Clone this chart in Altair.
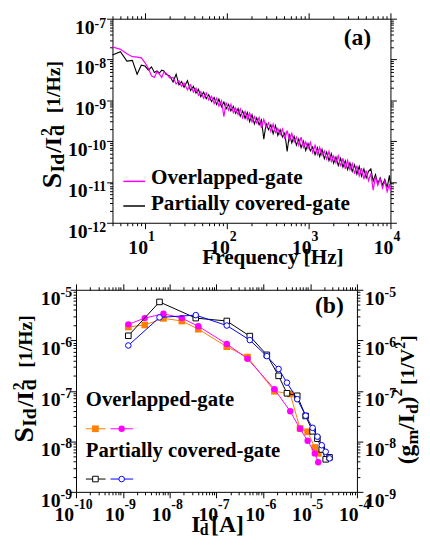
import altair as alt
import pandas as pd

FONT = "Liberation Serif"

# ---------------- panel (a): normalized drain-current noise spectra ----------------
freq_hz = [4, 5, 6, 7, 8, 9, 10, 11, 12, 13, 14, 15, 16, 17, 18,
           20, 22, 24, 26, 28, 30, 33, 36, 39, 42, 45, 48, 52, 56, 60,
           65, 70, 75, 80, 86, 92, 98, 105, 112, 120, 128, 137, 146, 156, 167,
           178, 190, 203, 217, 232, 248, 265, 283, 302, 323, 345, 368, 393, 420, 448,
           479, 511, 546, 583, 622, 664, 709, 757, 808, 863, 921, 983, 1050, 1121, 1197,
           1278, 1364, 1456, 1555, 1660, 1772, 1892, 2020, 2157, 2303, 2458, 2625, 2802, 2992, 3194,
           3410, 3641, 3887, 4150, 4431, 4731, 5051, 5392, 5757, 6147, 6562, 7006, 7480, 7986, 8526,
           9103, 9719, 10000]

# log10 of S_Id/Id^2
overlapped_log10_psd = [
    -7.69, -7.75, -7.86, -7.93, -7.94, -7.96, -8.08, -8.22, -8.40, -8.44, -8.30, -8.36, -8.44, -8.30, -8.33,
    -8.45, -8.44, -8.60, -8.52, -8.66, -8.58, -8.74, -8.62, -8.80, -8.70, -8.88, -8.79, -8.95, -8.82, -8.99,
    -8.90, -9.08, -8.95, -9.14, -9.01, -9.40, -9.05, -9.24, -9.10, -9.30, -9.19, -9.35, -9.21, -9.43, -9.27,
    -9.47, -9.31, -9.53, -9.40, -9.56, -9.42, -9.68, -9.47, -9.66, -9.55, -9.76, -9.58, -9.79, -9.69, -9.84,
    -9.70, -9.95, -9.74, -9.98, -9.81, -10.02, -9.90, -10.10, -9.90, -10.15, -10.02, -10.18, -10.03, -10.28, -10.10,
    -10.33, -10.15, -10.35, -10.24, -10.44, -10.25, -10.50, -10.36, -10.53, -10.36, -10.62, -10.42, -10.68, -10.47, -10.70,
    -10.55, -10.80, -10.60, -10.85, -10.66, -10.93, -10.72, -10.97, -10.79, -11.20, -10.87, -11.08, -10.92, -11.15, -10.98,
    -11.24, -11.05, -11.22]

partial_log10_psd = [
    -7.89, -7.81, -8.04, -8.02, -8.36, -8.14, -8.16, -8.26, -8.18, -8.32, -8.28, -8.33, -8.26, -8.28, -8.36,
    -8.40, -8.55, -8.36, -8.62, -8.54, -8.68, -8.52, -8.76, -8.66, -8.82, -8.73, -8.91, -8.80, -8.96, -8.86,
    -9.03, -8.93, -9.10, -8.97, -9.16, -9.04, -9.21, -9.10, -9.26, -9.15, -9.32, -9.20, -9.39, -9.26, -9.44,
    -9.30, -9.52, -9.35, -9.58, -9.43, -9.60, -9.48, -9.95, -9.57, -9.72, -9.60, -9.82, -9.62, -9.86, -9.72,
    -9.90, -9.80, -10.25, -9.82, -10.04, -9.88, -10.10, -9.95, -10.16, -10.00, -10.23, -10.06, -10.24, -10.14, -10.33,
    -10.16, -10.38, -10.20, -10.43, -10.27, -10.48, -10.31, -10.54, -10.39, -10.60, -10.42, -10.64, -10.48, -10.70, -10.53,
    -10.74, -10.58, -10.81, -10.62, -10.86, -10.68, -10.90, -10.74, -10.68, -10.98, -10.82, -11.04, -10.90, -11.08, -10.94,
    -11.14, -10.84, -11.06]

# ---------------- panel (b): S_Id/Id^2 and (gm/Id)^2 versus Id ----------------
overlapped_id = [1.31e-9, 2.93e-9, 7.36e-9, 1.82e-8, 4.09e-8, 1.66e-7, 4.6e-7,
                 1.73e-6, 3.76e-6, 6.1e-6, 8.85e-6, 1.26e-5, 1.49e-5]
overlapped_sid = [1.84e-6, 2.01e-6, 2.72e-6, 2.41e-6, 1.66e-6, 7.48e-7, 4.65e-7,
                  9.8e-8, 8.67e-8, 1.8e-8, 1.55e-8, 7.55e-9, 5.77e-9]
overlapped_gm2 = [2.07e-6, 2.75e-6, 3.36e-6, 2.75e-6, 1.9e-6, 8.45e-7, 4.31e-7,
                  1.08e-7, 3.93e-8, 1.77e-8, 1.03e-8, 5.77e-9, 3.85e-9]
partial_id = [1.31e-9, 6.07e-9, 3.61e-8, 1.66e-7, 5.15e-7, 1.19e-6, 2.12e-6, 3.2e-6,
              5.3e-6, 8.03e-6, 1.13e-5, 1.43e-5, 1.77e-5, 2.15e-5, 2.6e-5]
partial_sid = [1.23e-6, 5.75e-6, 2.75e-6, 2.41e-6, 1.21e-6, 5.15e-7, 1.98e-7, 8.94e-8,
               7.98e-8, 3.18e-8, 1.58e-8, 1.13e-8, 6.9e-9, 4.4e-9, 4.82e-9]
partial_gm2 = [7.9e-7, 2.84e-6, 3.15e-6, 1.96e-6, 1.01e-6, 4.86e-7, 2.71e-7, 1.45e-7,
               6.83e-8, 3.22e-8, 1.85e-8, 1.24e-8, 8.37e-9, 6.22e-9, 4.6e-9]

# tick label texts
a_x_major = [10, 100, 1000, 10000]
a_x_exp = ["1", "2", "3", "4"]
a_y_major = [1e-7, 1e-8, 1e-9, 1e-10, 1e-11, 1e-12]
a_y_exp = ["-7", "-8", "-9", "-10", "-11", "-12"]
b_x_major = [1e-10, 1e-9, 1e-8, 1e-7, 1e-6, 1e-5, 1e-4]
b_x_exp = ["-10", "-9", "-8", "-7", "-6", "-5", "-4"]
b_y_major = [1e-5, 1e-6, 1e-7, 1e-8, 1e-9]
b_y_exp = ["-5", "-6", "-7", "-8", "-9"]

# whole drawing is one view; panels get their own scale ranges
VW, VH = 420, 534
TEN = 20
EXP = 14
one = pd.DataFrame({"k": [0]})

MAJOR = "abs(log(datum.value)/LN10 - round(log(datum.value)/LN10)) < 0.001"


def log_ticks(lo, hi):
    vals = []
    d = lo
    while d <= hi:
        for k in range(1, 10):
            vals.append(k * 10.0 ** d)
        d += 1
    return vals


def axis(orient, values, offset):
    return alt.Axis(orient=orient, values=values, labels=False, title=None, domain=True,
                    domainColor="black", domainWidth=1, offset=offset,
                    grid=False, ticks=True, tickColor="black", tickWidth=1,
                    tickSize={"condition": {"test": MAJOR, "value": 6}, "value": 3})


def txt(s, x, y, size, angle=0, align="left", baseline="alphabetic"):
    kw = dict(text=s, font=FONT, fontWeight="bold", fontSize=size, align=align,
              baseline=baseline, color="black")
    if angle:
        kw["angle"] = angle
    return alt.Chart(one).mark_text(**kw).encode(x=alt.value(x), y=alt.value(y))


def wexp(e, size):
    return sum(0.333 if c == "-" else 0.5 for c in e) * size


def x_labels(vals, exps, scale, y_ten, y_exp, shift, mirror_axis):
    df = pd.DataFrame({"v": vals, "e": exps})
    out = []
    first = True
    for L in sorted(set(len(e) for e in exps)):
        sub = df[df["e"].str.len() == L].reset_index(drop=True)
        w = wexp(sub["e"][0], EXP)
        dx = 10 - w / 2 + shift
        ax = mirror_axis if first else None
        first = False
        base = alt.Chart(sub)
        out.append(base.mark_text(text="10", font=FONT, fontWeight="bold", fontSize=TEN,
                                  align="right", dx=dx, color="black")
                   .encode(x=alt.X("v:Q", scale=scale, axis=ax), y=alt.value(y_ten)))
        out.append(base.mark_text(font=FONT, fontWeight="bold", fontSize=EXP,
                                  align="left", dx=dx, color="black")
                   .encode(x=alt.X("v:Q", scale=scale, axis=None), y=alt.value(y_exp),
                           text="e:N"))
    return out


def y_labels_left(vals, exps, scale, right_edge, dy_ten, dy_exp, mirror_axis=None):
    df = pd.DataFrame({"v": vals, "e": exps})
    out = []
    first = True
    for L in sorted(set(len(e) for e in exps)):
        sub = df[df["e"].str.len() == L].reset_index(drop=True)
        w = wexp(sub["e"][0], EXP)
        ax = mirror_axis if first else None
        first = False
        base = alt.Chart(sub)
        out.append(base.mark_text(text="10", font=FONT, fontWeight="bold", fontSize=TEN,
                                  align="right", dy=dy_ten, color="black")
                   .encode(x=alt.value(right_edge - w), y=alt.Y("v:Q", scale=scale, axis=ax)))
        out.append(base.mark_text(font=FONT, fontWeight="bold", fontSize=EXP,
                                  align="right", dy=dy_exp, color="black")
                   .encode(x=alt.value(right_edge), y=alt.Y("v:Q", scale=scale, axis=None),
                           text="e:N"))
    return out


def y_labels_right(vals, exps, scale, left_edge, dy_ten, dy_exp, mirror_axis=None):
    df = pd.DataFrame({"v": vals, "e": exps})
    base = alt.Chart(df)
    return [
        base.mark_text(text="10", font=FONT, fontWeight="bold", fontSize=TEN,
                       align="left", dy=dy_ten, color="black")
        .encode(x=alt.value(left_edge), y=alt.Y("v:Q", scale=scale, axis=mirror_axis)),
        base.mark_text(font=FONT, fontWeight="bold", fontSize=EXP,
                       align="left", dy=dy_exp, color="black")
        .encode(x=alt.value(left_edge + TEN), y=alt.Y("v:Q", scale=scale, axis=None),
                text="e:N"),
    ]


# ================= panel (a) =================
AX0, AX1, AY0, AY1 = 106, 388, 7, 214          # plot box inside the view
xs_a = alt.Scale(type="log", domain=[4, 10000], nice=False, range=[AX0, AX1])
ys_a = alt.Scale(type="log", domain=[1e-12, 1e-7], nice=False, range=[AY1, AY0])
xt_a = [v for v in log_ticks(0, 3) if v >= 4] + [10000]
yt_a = log_ticks(-12, -8) + [1e-7]

df_ov = pd.DataFrame({"f": freq_hz, "S": [10 ** v for v in overlapped_log10_psd]})
df_pc = pd.DataFrame({"f": freq_hz, "S": [10 ** v for v in partial_log10_psd]})

line_pc = alt.Chart(df_pc).mark_line(color="black", strokeWidth=1.1).encode(
    x=alt.X("f:Q", scale=xs_a, axis=axis("bottom", xt_a, AY1 - VH)),
    y=alt.Y("S:Q", scale=ys_a, axis=axis("left", yt_a, -AX0)))
line_ov = alt.Chart(df_ov).mark_line(color="#FF00FF", strokeWidth=1.2).encode(
    x=alt.X("f:Q", scale=xs_a, axis=None),
    y=alt.Y("S:Q", scale=ys_a, axis=None))

a_layers = [line_pc, line_ov]
a_layers += x_labels(a_x_major, a_x_exp, xs_a, 240, 228, -3.5, axis("top", xt_a, -AY0))
a_layers += y_labels_left(a_y_major, a_y_exp, ys_a, 99.5, 9, 5, axis("right", yt_a, AX1 - VW))
a_layers += [
    # y title  S_Id / I_d^2 [1/Hz]
    txt("S", 54, 179, 28, angle=270),
    txt("Id", 57, 163, 20, angle=270),
    txt("/I", 54, 143, 24, angle=270),
    txt("d", 57, 126, 20, angle=270),
    txt("2", 45, 126, 16, angle=270),
    txt("[1/Hz]", 53, 103, 20, angle=270),
    # x title
    txt("Frequency [Hz]", 197, 256, 21.5),
    # legend
    alt.Chart(one).mark_rule(color="#FF00FF", strokeWidth=1.5).encode(
        x=alt.value(117), x2=alt.value(139), y=alt.value(172)),
    alt.Chart(one).mark_rule(color="black", strokeWidth=1.5).encode(
        x=alt.value(117), x2=alt.value(139), y=alt.value(197)),
    txt("Overlapped-gate", 145, 174.5, 21.5),
    txt("Partially covered-gate", 145, 201, 21.5),
    txt("(a)", 354.5, 34, 24, align="center"),
]
panel_a = alt.layer(*a_layers)

# ================= panel (b) =================
BX0, BX1, BY0, BY1 = 69, 354, 282, 487
xs_b = alt.Scale(type="log", domain=[1e-10, 1e-4], nice=False, range=[BX0, BX1])
ys_b = alt.Scale(type="log", domain=[1e-9, 1e-5], nice=False, range=[BY1, BY0])
xt_b = log_ticks(-10, -5) + [1e-4]
yt_b = log_ticks(-9, -6) + [1e-5]

df_b_ov = pd.DataFrame({"id": overlapped_id, "sid": overlapped_sid, "gm": overlapped_gm2})
df_b_pc = pd.DataFrame({"id": partial_id, "sid": partial_sid, "gm": partial_gm2})

ORANGE, MAGENTA, BLUE = "#FF8000", "#FF00FF", "#0000FF"


def marker(data, shape, color, open_marker, size):
    if open_marker:
        return alt.Chart(data).mark_point(shape=shape, filled=True, fill="white", stroke=color,
                                          strokeWidth=1, size=size, opacity=1)
    return alt.Chart(data).mark_point(shape=shape, filled=True, color=color, size=size,
                                      opacity=1)


def series(df, field, color, shape, open_marker, size, with_axes=False):
    xax = axis("bottom", xt_b, BY1 - VH) if with_axes else None
    yax = axis("left", yt_b, -BX0) if with_axes else None
    ln = alt.Chart(df).mark_line(color=color, strokeWidth=1).encode(
        x=alt.X("id:Q", scale=xs_b, axis=xax),
        y=alt.Y(field + ":Q", scale=ys_b, axis=yax))
    pt = marker(df, shape, color, open_marker, size).encode(
        x=alt.X("id:Q", scale=xs_b, axis=None),
        y=alt.Y(field + ":Q", scale=ys_b, axis=None))
    return [ln, pt]


def swatch(x1, x2, xm, y, color, shape, open_marker, size):
    r = alt.Chart(one).mark_rule(color=color, strokeWidth=1).encode(
        x=alt.value(x1), x2=alt.value(x2), y=alt.value(y))
    m = marker(one, shape, color, open_marker, size).encode(x=alt.value(xm), y=alt.value(y))
    return [r, m]


b_layers = []
b_layers += series(df_b_ov, "sid", ORANGE, "square", False, 46, with_axes=True)
b_layers += series(df_b_ov, "gm", MAGENTA, "circle", False, 42)
b_layers += series(df_b_pc, "sid", "black", "square", True, 32)
b_layers += series(df_b_pc, "gm", BLUE, "circle", True, 32)
b_layers += x_labels(b_x_major, b_x_exp, xs_b, 511, 500, -2.5, axis("top", xt_b, -BY0))
b_layers += y_labels_left(b_y_major, b_y_exp, ys_b, 65, 9, 3)
b_layers += y_labels_right(b_y_major, b_y_exp, ys_b, 362, 9, 3, axis("right", yt_b, BX1 - VW))
b_layers += [
    # left title  S_Id / I_d^2 [1/Hz]
    txt("S", 25, 437, 28, angle=270),
    txt("Id", 28, 421, 20, angle=270),
    txt("/I", 25, 401, 24, angle=270),
    txt("d", 28, 384, 20, angle=270),
    txt("2", 16, 384, 16, angle=270),
    txt("[1/Hz]", 24, 361, 20, angle=270),
    # right title  (g_m / I_d)^2 [1/V^2]
    txt("(g", 412, 459, 24, angle=270),
    txt("m", 416, 439, 18, angle=270),
    txt("/I", 412, 424, 24, angle=270),
    txt("d", 416, 408, 18, angle=270),
    txt(")", 412, 398, 24, angle=270),
    txt("2", 400, 390, 15, angle=270),
    txt("[1/V", 412, 378.5, 20, angle=270),
    txt("2", 403, 341.8, 14, angle=270),
    txt("]", 412, 334.8, 20, angle=270),
    # x title  I_d [A]
    txt("I", 186, 528, 24),
    txt("d", 194.5, 531, 16),
    txt("[A]", 206, 528, 24),
    # legend
    txt("Overlapped-gate", 79, 400, 21),
    txt("Partially covered-gate", 79, 451.5, 21),
    txt("(b)", 326, 305.5, 24, align="center"),
]
b_layers += swatch(79, 99, 88.7, 423, ORANGE, "square", False, 46)
b_layers += swatch(104, 127, 115.3, 423, MAGENTA, "circle", False, 42)
b_layers += swatch(79, 99, 88.7, 474, "black", "square", True, 32)
b_layers += swatch(104, 127, 115.3, 474, BLUE, "circle", True, 32)

panel_b = alt.layer(*b_layers)

chart = (
    alt.layer(panel_a, panel_b)
    .resolve_scale(x="independent", y="independent")
    .properties(width=VW, height=VH, padding=0,
                autosize=alt.AutoSizeParams(type="none"))
    .configure_view(strokeWidth=0)
)

chart.save("out.html", embed_options={"renderer": "svg", "actions": False})
